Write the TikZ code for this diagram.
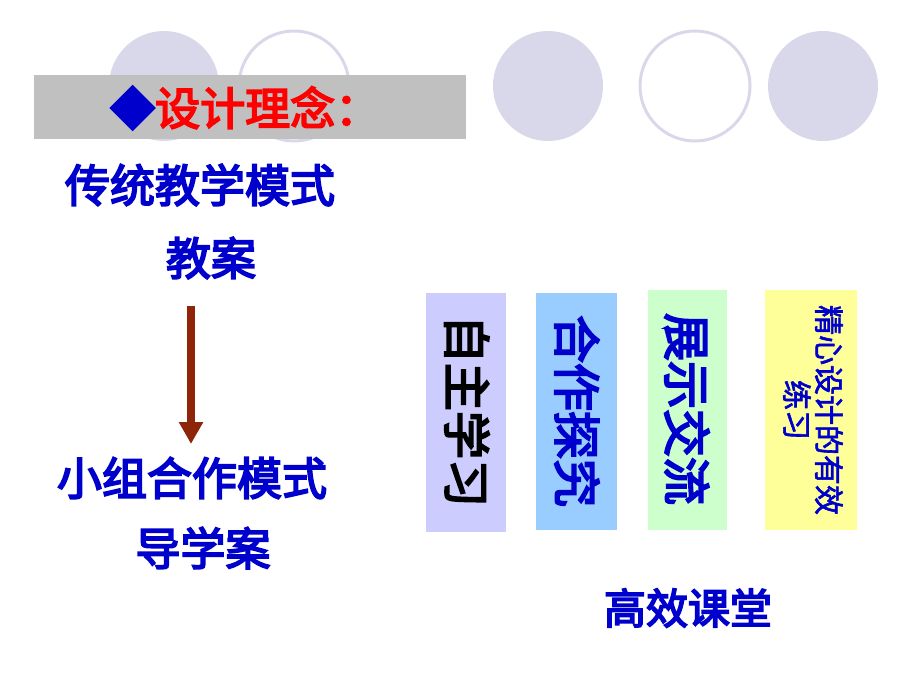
\documentclass[tikz,border=0pt]{standalone}
\usepackage{fontspec}
\usepackage{xcolor}
\newfontfamily\cjk{Noto Sans CJK SC}[FakeBold=2]
\newfontfamily\cjkheavy{Noto Sans CJK SC}[FakeBold=4]
\usetikzlibrary{arrows.meta}
\definecolor{ring}{HTML}{D9D8EB}
\definecolor{bar}{HTML}{C0C0C0}
\definecolor{ink}{HTML}{0000CC}
\definecolor{rust}{HTML}{8E2508}
\colorlet{box one}{blue!20}
\definecolor{box two}{HTML}{99CCFF}
\definecolor{box three}{HTML}{CCFFCC}
\definecolor{box four}{HTML}{FFFF99}
\def\ringr{55}
\tikzset{disc/.style={fill=ring},
    hoop/.style={draw=ring, line width=3pt},
    big/.style={text=ink, font=\cjkheavy\fontsize{45}{50}\selectfont, inner sep=0pt},
    tall/.style={font=\cjkheavy\fontsize{48}{52}\selectfont, text=ink},
    small/.style={font=\cjk\fontsize{30}{32}\selectfont, text=ink, align=center}}

\begin{document}
\begin{tikzpicture}[x=1pt, y=-1pt]
    \useasboundingbox (0,0) rectangle (920,690);
    % circles along the top
    \fill[disc] (164,86) circle (\ringr);
    \draw[hoop] (294,86) circle (\ringr);
    \fill[disc] (548,86) circle (\ringr);
    \draw[hoop] (695,86) circle (\ringr);
    \fill[disc] (823,86) circle (\ringr);
    % title bar
    \fill[bar] (34,75) rectangle (466,139);
    \node[anchor=west, inner sep=0pt, font=\cjkheavy\fontsize{45}{48}\selectfont]
      (title) at (110,108) {\textcolor{ink}{◆}\textcolor{red}{设计理念：}};
    % left column
    \node[big] (old) at (200,185) {传统教学模式};
    \node[big] (plan) at (211,258) {教案};
    \node[big] (group) at (192,478) {小组合作模式};
    \node[big] (guide) at (203,548) {导学案};
    \coordinate (top) at (191,306);
    \coordinate (tip) at (191,444);
    \draw[rust, line width=8pt, -{Triangle[width=23pt, length=22pt]}] (top) -- (tip);
    % four pillars
    \fill[box one] (426,293) rectangle (506,532);
    \fill[box two] (536,293) rectangle (617,530);
    \fill[box three] (648,290) rectangle (727,530);
    \fill[box four] (765,290) rectangle (857,530);
    \node[tall, text=black, rotate=-90] (self) at (467,411) {自主学习};
    \node[tall, rotate=-90] (coop) at (577,411) {合作探究};
    \node[tall, rotate=-90] (show) at (687,409) {展示交流};
    \node[small, rotate=-90] (drill) at (813,410) {精心设计的有效\\练习};
    \node[font=\cjkheavy\fontsize{42}{46}\selectfont, text=ink] (class) at (688,608) {高效课堂};
\end{tikzpicture}
\end{document}
